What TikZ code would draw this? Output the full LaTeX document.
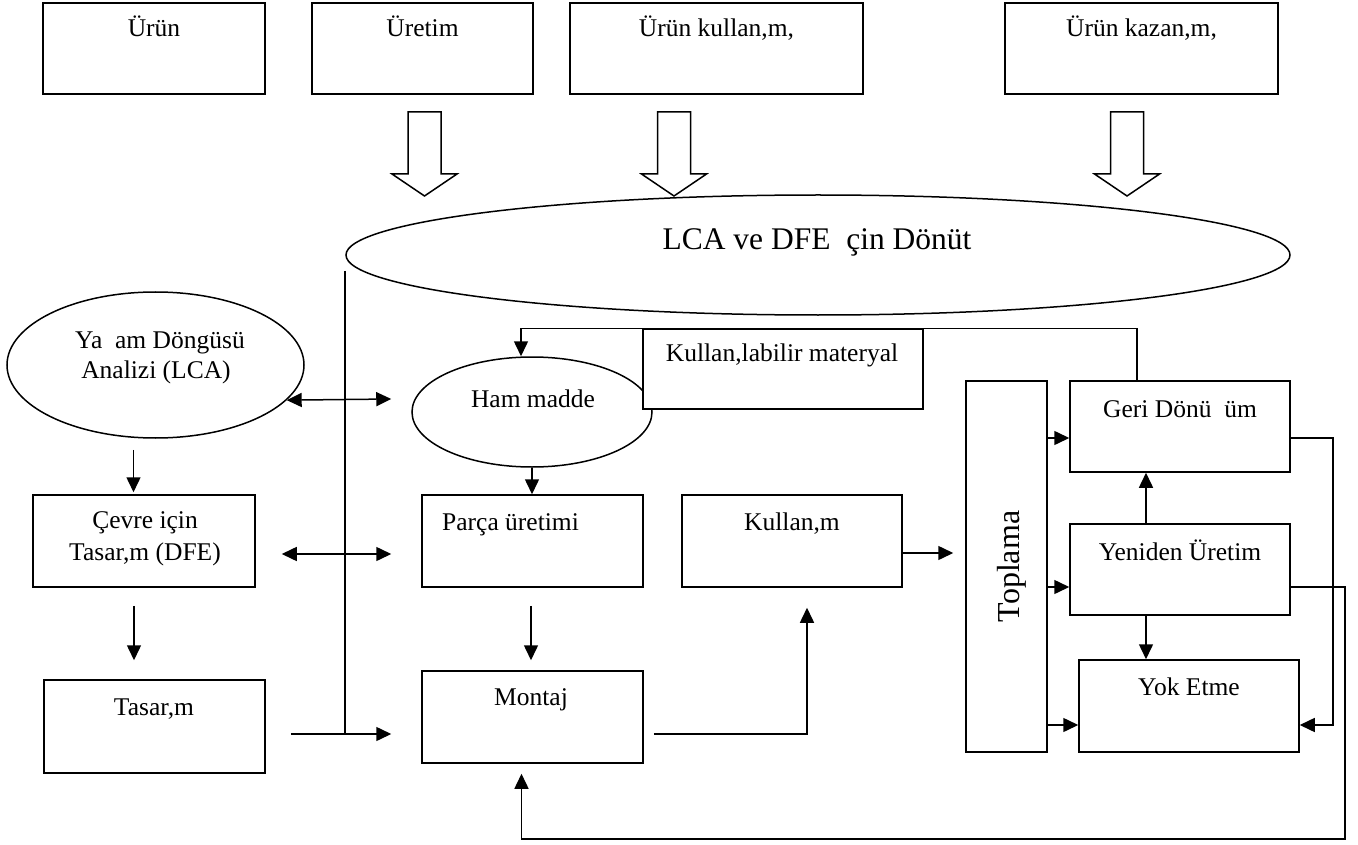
\documentclass[tikz,border=0pt]{standalone}
\usepackage{fontspec}
\setmainfont{Liberation Serif}
\usetikzlibrary{arrows.meta,calc,shapes.geometric}
\begin{document}
\begin{tikzpicture}[x=1pt,y=-1pt,
  box/.style={draw,line width=1.5pt,fill=white,inner sep=0pt},
  oval/.style={draw,ellipse,line width=1.5pt,fill=white,inner sep=0pt},
  lbl/.style={anchor=base,inner sep=0pt,font=\fontsize{25.5}{29}\selectfont},
  big/.style={anchor=base,inner sep=0pt,font=\fontsize{31.5}{35}\selectfont},
  conn/.style={line width=1.5pt},
  arr/.style={conn,-{Triangle[length=15pt,width=14pt]}},
  darr/.style={conn,{Triangle[length=15pt,width=14pt]}-{Triangle[length=15pt,width=14pt]}},
  blk/.style={draw,line width=1.5pt,fill=white,line join=miter}]
\useasboundingbox (0,0) rectangle (1358,845);

% top boxes
\node[box,minimum width=222pt,minimum height=91pt] (urun) at (154,48.5) {};
\node[box,minimum width=221pt,minimum height=91pt] (uretim) at (422.5,48.5) {};
\node[box,minimum width=293pt,minimum height=91pt] (kullanimi) at (716.5,48.5) {};
\node[box,minimum width=273pt,minimum height=91pt] (kazanimi) at (1141.5,48.5) {};
\node[lbl] (turun) at (154,37) {Ürün};
\node[lbl] (turetim) at (422.5,37) {Üretim};
\node[lbl] (tkullanimi) at (716.5,37) {Ürün kullan,m,};
\node[lbl] (tkazanimi) at (1141.5,37) {Ürün kazan,m,};

% block arrows
\foreach \cx in {424.5,674,1127}{
  \draw[blk] ({\cx-16.5},112) -- ({\cx+16.5},112) -- ({\cx+16.5},174) -- ({\cx+32.5},174)
    -- (\cx,196) -- ({\cx-32.5},174) -- ({\cx-16.5},174) -- cycle;
}

% big ellipse
\node[oval,minimum width=944pt,minimum height=120pt] (lcadfe) at (818,255) {};
\node[big] (tlcadfe) at (817,250) {LCA ve DFE \ çin Dönüt};

% left column
\node[oval,minimum width=297pt,minimum height=146pt] (yasam) at (155.5,365) {};
\node[lbl] (tyasam1) at (160,348) {Ya\ \ am Döngüsü};
\node[lbl] (tyasam2) at (156,378) {Analizi (LCA)};
\node[box,minimum width=222pt,minimum height=92pt] (cevre) at (144,541) {};
\node[lbl] (tcevre1) at (145,528) {Çevre için};
\node[lbl] (tcevre2) at (145,560) {Tasar,m (DFE)};
\node[box,minimum width=221pt,minimum height=93pt] (tasarim) at (154.5,726.5) {};
\node[lbl] (ttasarim) at (154,715) {Tasar,m};

% middle column
\node[oval,minimum width=240pt,minimum height=110pt] (ham) at (532,412) {};
\node[lbl] (tham) at (533,407) {Ham madde};
\node[box,minimum width=280pt,minimum height=80pt] (kulmat) at (783,369) {};
\node[lbl] (tkulmat) at (782,361) {Kullan,labilir materyal};
\node[box,minimum width=221pt,minimum height=92pt] (parca) at (532.5,541) {};
\node[lbl,anchor=base west] (tparca) at (442,530) {Parça üretimi};
\node[box,minimum width=221pt,minimum height=92pt] (montaj) at (532.5,717) {};
\node[lbl] (tmontaj) at (531,705) {Montaj};
\node[box,minimum width=220pt,minimum height=92pt] (kullanim) at (792,541) {};
\node[lbl] (tkullanim) at (792,530) {Kullan,m};

% right part
\node[box,minimum width=81pt,minimum height=371pt] (toplama) at (1006.5,566.5) {};
\node[anchor=base,inner sep=0pt,rotate=90,font=\fontsize{32}{36}\selectfont] (ttoplama) at (1019,566.5) {Toplama};
\node[box,minimum width=220pt,minimum height=91pt] (geri) at (1180,426.5) {};
\node[lbl] (tgeri) at (1180,417) {Geri Dönü\ \ üm};
\node[box,minimum width=220pt,minimum height=91pt] (yeniden) at (1180,569.5) {};
\node[lbl] (tyeniden) at (1180,560) {Yeniden Üretim};
\node[box,minimum width=220pt,minimum height=92pt] (yok) at (1189,706) {};
\node[lbl] (tyok) at (1189,695) {Yok Etme};

% connectors
\draw[arr,shorten <=11pt,shorten >=2pt] ([xshift=-22pt]yasam.south) -- ([xshift=-22pt]yasam.south |- cevre.north);
\draw[arr,shorten <=18pt,shorten >=19pt] ([xshift=-10pt]cevre.south) -- ([xshift=-10pt]cevre.south |- tasarim.north);
\draw[darr] (yasam.-15) -- ([yshift=13pt,xshift=-20pt]ham.west);
\draw[darr,shorten <=26pt,shorten >=30pt] ([yshift=-13pt]cevre.east) -- ([yshift=-13pt]cevre.east -| parca.west);
\draw[arr] (ham.south) -- (ham.south |- parca.north);
\draw[arr,shorten <=18pt,shorten >=10pt] ([xshift=-1.5pt]parca.south) -- ([xshift=-1.5pt]montaj.north);
\coordinate (tasout) at ([yshift=-7.5pt]tasarim.east);
\draw[arr,shorten <=25pt,shorten >=30pt] (tasout) -- (tasout -| montaj.west);
\coordinate (vtop) at (345,271);
\draw[conn] (vtop) -- (vtop |- tasout);
\draw[arr,shorten <=10pt,shorten >=20pt] ([yshift=-17pt]montaj.east) -| ([xshift=15pt]kullanim.south);
\draw[arr,shorten >=12pt] ([yshift=-12pt]kullanim.east) -- ([yshift=-12pt]kullanim.east -| toplama.west);
\draw[arr] ([yshift=-11.5pt]geri.west -| toplama.east) -- ([yshift=-11.5pt]geri.west);
\draw[arr] ([yshift=-17.5pt]yeniden.west -| toplama.east) -- ([yshift=-17.5pt]yeniden.west);
\draw[arr] ([yshift=-19pt]yok.west -| toplama.east) -- ([yshift=-19pt]yok.west);
\draw[arr] ([xshift=-34pt]yeniden.north) -- ([xshift=-34pt]yeniden.north |- geri.south);
\draw[arr] ([xshift=-34pt]yeniden.south) -- ([xshift=-34pt]yeniden.south |- yok.north);
\draw[arr] ([yshift=-11.5pt]geri.east) -- ++(42,0) |- ([yshift=-19pt]yok.east);
\draw[arr,shorten >=10pt] ([yshift=-17.5pt]yeniden.east) -- ++(54,0) -- ++(0,252) -| ([xshift=-11pt]montaj.south);
\draw[arr] ([xshift=-43pt]geri.north) -- ++(0,-52) -| ([xshift=-11pt]ham.north);
\end{tikzpicture}
\end{document}
